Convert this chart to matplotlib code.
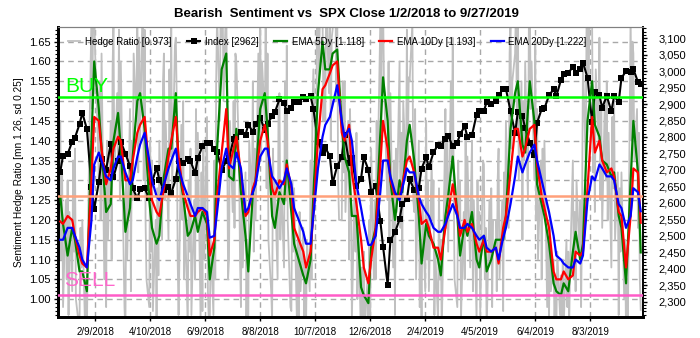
import matplotlib
matplotlib.use("Agg")
import matplotlib.pyplot as plt
import matplotlib.dates as mdates
from matplotlib.ticker import MultipleLocator, FuncFormatter
import pandas as pd

plt.rcParams['font.family'] = ['Liberation Sans', 'DejaVu Sans']

first_day, last_day = '2018-01-02', '2019-09-27'
# every trading session, and every third one counted back from the last close
trading_days = pd.bdate_range(first_day, last_day)
sessions = trading_days[::-1][::3][::-1]

# Sentiment hedge ratio, one reading per trading session
hedge = [
    1.45, 1.10, 1.32, 0.98, 1.25, 1.05, 1.30, 0.96, 1.22, 1.02, 1.35, 1.12,
    1.38, 1.00, 0.94, 0.95, 1.18, 1.08, 1.20, 0.93, 1.05, 0.92, 1.10, 1.30,
    1.72, 1.48, 1.80, 1.75, 1.62, 1.40, 1.30, 1.55, 1.20, 1.62, 1.05, 1.28,
    0.98, 1.40, 1.15, 1.45, 1.10, 1.58, 1.70, 1.30, 1.52, 1.35, 1.68, 1.25,
    1.60, 1.12, 0.98, 0.92, 1.30, 1.10, 1.48, 1.02, 1.40, 1.25, 1.62, 1.45,
    1.75, 1.32, 1.66, 1.40, 1.78, 1.30, 1.68, 1.20, 1.05, 0.98, 1.40, 1.12,
    1.35, 0.97, 1.20, 0.95, 1.28, 1.06, 1.40, 1.15, 1.55, 1.62, 1.25, 1.45,
    1.15, 1.58, 1.36, 1.70, 1.28, 1.64, 1.66, 1.50, 1.10, 0.96, 1.44, 1.20,
    1.50, 1.05, 1.22, 0.93, 1.30, 1.12, 1.38, 0.96, 1.25, 1.05, 1.48, 1.18,
    1.42, 0.95, 1.32, 0.97, 1.40, 1.10, 1.46, 1.02, 0.94,
    0.93, 1.15, 0.96, 1.35, 1.05, 1.55, 1.72, 1.45, 1.80, 1.66, 1.78, 1.50,
    1.78, 1.40, 1.05, 1.10, 1.45, 1.22, 1.50, 1.18, 1.62, 1.60, 1.35, 1.10,
    0.98, 1.30, 1.08, 1.32, 0.95, 1.15, 0.92, 1.40, 1.25, 1.55, 1.12, 1.38,
    1.20, 1.62, 1.40, 1.74, 1.35, 1.60, 1.45, 1.70, 1.28, 1.62, 1.15, 1.02,
    0.95, 1.38, 1.20, 1.30, 1.05, 1.48, 1.52, 1.15, 1.30, 1.08, 1.55, 1.25,
    1.64, 1.20, 0.98, 0.97, 1.30, 1.12, 1.28, 0.95, 1.15, 0.94, 1.22, 1.02,
    1.18, 0.93, 1.08, 0.92, 1.15, 1.02, 1.35, 1.05, 1.48, 1.58, 1.30, 1.75,
    1.80, 1.55, 1.70, 1.72, 1.45, 1.62, 1.45, 1.78, 1.52, 1.76, 1.40, 1.66,
    1.68, 1.80, 1.50, 1.75, 1.30, 1.20, 1.20, 1.55, 1.32, 1.55, 1.22, 1.45,
    1.10, 1.48, 1.30,
    0.95, 1.30, 1.12, 1.42, 1.00, 1.18, 0.90, 1.08, 0.94, 1.12, 0.92, 1.05,
    0.92, 1.20, 0.96, 1.38, 1.05, 1.25, 1.05, 1.45, 1.30, 1.70, 1.42, 1.78,
    1.74, 1.55, 1.30, 1.25, 1.60, 1.15, 1.52, 1.08, 1.35, 0.96, 1.38, 1.22,
    1.60, 1.18, 1.42, 1.10, 1.50, 1.30, 1.68, 1.35, 1.56, 1.55, 1.70, 1.25,
    1.22, 1.48, 1.05, 1.40, 0.98, 1.15, 0.93, 1.25, 1.02, 1.45, 1.10, 1.30,
    1.02, 1.35, 1.20, 1.30, 0.96, 1.12, 0.94, 1.28, 1.05, 1.15, 0.92, 1.32,
    1.48, 1.18, 1.40, 1.12, 1.55, 1.35, 1.66, 1.30, 1.05, 0.98, 1.35, 1.15,
    1.30, 0.95, 1.22, 1.05, 1.42, 1.18, 1.36, 1.08, 1.28, 1.40, 1.02, 1.25,
    0.95, 1.30, 1.08, 1.22, 0.96, 1.35, 1.34, 1.05, 1.18, 0.92, 1.25, 1.10,
    1.28, 0.98, 1.20, 1.20, 1.02, 1.30,
    1.38, 1.05, 1.25, 0.97, 1.32, 1.15, 1.45, 1.18, 1.62, 1.70, 1.38, 1.55,
    1.62, 1.75, 1.42, 1.76, 1.30, 1.55, 1.15, 1.50, 1.35, 1.60, 1.25, 1.68,
    1.78, 1.48, 1.60, 1.30, 1.65, 1.20, 1.48, 1.10, 1.35, 1.05, 1.38, 1.22,
    1.40, 0.98, 1.15, 0.95, 1.20, 1.02, 1.10, 0.93, 1.05, 0.92, 1.12, 0.96,
    1.06, 0.92, 1.10, 0.93, 1.15, 0.98, 1.12, 0.94, 1.08, 1.35, 1.05, 1.22,
    1.02, 1.30, 1.12, 1.25, 0.98, 1.20, 1.60, 1.35, 1.72, 1.80, 1.55, 1.68,
    1.70, 1.32, 1.50, 1.22, 1.58, 1.40, 1.66, 1.25, 1.48, 1.18, 1.52, 1.30,
    1.55, 1.20, 1.42, 1.08, 1.46, 1.28, 1.50, 1.15, 1.32, 0.96, 1.28, 1.12,
    1.32, 1.00, 1.15, 0.90, 1.05, 0.94, 1.72, 1.40, 1.65, 1.62, 1.35, 1.48,
    1.18, 1.42, 1.05, 0.973,
]

# S&P 500 close, every third session
spx = [
    2695, 2743, 2748, 2786, 2798, 2839, 2873, 2824, 2649, 2581, 2662, 2732, 2701,
    2780, 2678, 2728, 2786, 2749, 2712, 2644, 2613, 2641, 2644, 2613, 2663, 2706,
    2670, 2639, 2648, 2630, 2672, 2728, 2722, 2733, 2727, 2690, 2735, 2772, 2782,
    2782, 2762, 2755, 2699, 2727, 2736, 2793, 2801, 2816, 2807, 2837, 2816, 2840,
    2858, 2822, 2840, 2863, 2875, 2914, 2902, 2878, 2888, 2905, 2907, 2920, 2914,
    2923, 2886, 2786, 2750, 2768, 2741, 2659, 2712, 2738, 2806, 2722,
    2736, 2650, 2673, 2738, 2700, 2633, 2651, 2546, 2467, 2351, 2486, 2510, 2550,
    2597, 2610, 2671, 2639, 2644, 2704, 2738, 2708, 2753, 2776, 2774, 2793, 2804,
    2771, 2783, 2808, 2832, 2801, 2805, 2868, 2879, 2878, 2907, 2900, 2908,
    2926, 2946, 2946, 2879, 2812, 2876, 2864, 2826, 2783, 2744, 2843, 2885, 2887,
    2926, 2945, 2924, 2973, 2990, 2993, 3014, 2995, 3005, 3026, 2980, 2844, 2938,
    2926, 2889, 2924, 2878, 2924, 2906, 2979, 3000, 2998, 3006, 2967, 2962,
]

# 5-day EMA of the hedge ratio, every third session
ema5 = [
    1.26, 1.19, 1.11, 1.18, 1.15, 1.07, 1.07, 1.02, 1.40, 1.60, 1.48, 1.38, 1.22,
    1.24, 1.40, 1.47, 1.38, 1.17, 1.23, 1.36, 1.50, 1.52, 1.43, 1.25, 1.18, 1.14,
    1.16, 1.31, 1.38, 1.38, 1.52, 1.33, 1.26, 1.16, 1.17, 1.21, 1.17, 1.22, 1.19,
    1.05, 1.13, 1.38, 1.58, 1.62, 1.31, 1.30, 1.43, 1.27, 1.16, 1.07, 1.27, 1.30,
    1.48, 1.52, 1.43, 1.21, 1.18, 1.27, 1.24, 1.35, 1.22, 1.14, 1.10, 1.06, 1.04,
    1.10, 1.26, 1.52, 1.65, 1.58, 1.58, 1.62, 1.63, 1.44, 1.36, 1.32,
    1.21, 1.21, 1.03, 1.01, 0.99, 1.13, 1.18, 1.42, 1.56, 1.45, 1.30, 1.20, 1.30,
    1.27, 1.40, 1.44, 1.35, 1.21, 1.09, 1.19, 1.16, 1.14, 1.10, 1.06, 1.21, 1.26,
    1.36, 1.21, 1.11, 1.19, 1.16, 1.22, 1.10, 1.08, 1.16, 1.07, 1.10, 1.15,
    1.15, 1.15, 1.21, 1.43, 1.52, 1.55, 1.39, 1.37, 1.55, 1.45, 1.29, 1.24, 1.21,
    1.14, 1.04, 1.02, 1.01, 1.04, 1.02, 1.12, 1.17, 1.10, 1.14, 1.45, 1.55, 1.44,
    1.41, 1.35, 1.34, 1.31, 1.32, 1.21, 1.18, 1.04, 1.30, 1.45, 1.32, 1.118,
]

# 10-day EMA of the hedge ratio, every third session
ema10 = [
    1.196, 1.19, 1.21, 1.20, 1.16, 1.11, 1.09, 1.08, 1.30, 1.46, 1.45, 1.38, 1.29,
    1.33, 1.38, 1.41, 1.40, 1.30, 1.30, 1.35, 1.42, 1.44, 1.46, 1.32, 1.25, 1.22,
    1.21, 1.28, 1.36, 1.40, 1.46, 1.36, 1.27, 1.23, 1.21, 1.21, 1.22, 1.23, 1.21,
    1.11, 1.15, 1.26, 1.37, 1.48, 1.33, 1.38, 1.41, 1.32, 1.21, 1.22, 1.28, 1.30,
    1.40, 1.44, 1.40, 1.28, 1.26, 1.30, 1.29, 1.34, 1.28, 1.18, 1.15, 1.12, 1.08,
    1.12, 1.22, 1.40, 1.53, 1.54, 1.57, 1.59, 1.60, 1.42, 1.40, 1.44,
    1.32, 1.24, 1.15, 1.08, 1.04, 1.10, 1.18, 1.34, 1.45, 1.38, 1.30, 1.26, 1.26,
    1.29, 1.35, 1.36, 1.32, 1.25, 1.19, 1.20, 1.18, 1.13, 1.13, 1.10, 1.18, 1.22,
    1.29, 1.22, 1.16, 1.20, 1.17, 1.19, 1.14, 1.12, 1.15, 1.12, 1.12, 1.13,
    1.09, 1.18, 1.21, 1.32, 1.43, 1.43, 1.36, 1.38, 1.43, 1.44, 1.34, 1.26, 1.23,
    1.18, 1.07, 1.05, 1.05, 1.07, 1.05, 1.06, 1.12, 1.11, 1.12, 1.28, 1.46, 1.37,
    1.40, 1.35, 1.32, 1.33, 1.31, 1.22, 1.21, 1.08, 1.21, 1.33, 1.32, 1.193,
]

# 20-day EMA of the hedge ratio, every third session
ema20 = [
    1.150, 1.15, 1.18, 1.18, 1.16, 1.13, 1.10, 1.08, 1.20, 1.34, 1.37, 1.35, 1.31,
    1.30, 1.33, 1.36, 1.36, 1.32, 1.29, 1.30, 1.36, 1.39, 1.42, 1.35, 1.30, 1.26,
    1.25, 1.29, 1.33, 1.35, 1.38, 1.33, 1.29, 1.26, 1.24, 1.21, 1.23, 1.23, 1.22,
    1.155, 1.16, 1.22, 1.33, 1.38, 1.34, 1.33, 1.37, 1.33, 1.22, 1.23, 1.27, 1.29,
    1.36, 1.38, 1.38, 1.31, 1.30, 1.28, 1.30, 1.33, 1.29, 1.23, 1.20, 1.17, 1.14,
    1.14, 1.21, 1.33, 1.41, 1.44, 1.46, 1.49, 1.54, 1.45, 1.41, 1.43,
    1.40, 1.29, 1.23, 1.19, 1.137, 1.137, 1.16, 1.27, 1.35, 1.35, 1.31, 1.27, 1.25,
    1.28, 1.33, 1.32, 1.32, 1.26, 1.24, 1.22, 1.21, 1.18, 1.17, 1.17, 1.19, 1.21,
    1.24, 1.21, 1.18, 1.18, 1.19, 1.18, 1.16, 1.15, 1.16, 1.13, 1.12, 1.13,
    1.10, 1.155, 1.18, 1.24, 1.31, 1.36, 1.32, 1.34, 1.37, 1.39, 1.35, 1.30, 1.27,
    1.22, 1.16, 1.11, 1.10, 1.09, 1.08, 1.08, 1.10, 1.09, 1.11, 1.25, 1.31, 1.30,
    1.34, 1.33, 1.31, 1.31, 1.30, 1.24, 1.23, 1.18, 1.21, 1.28, 1.27, 1.222,
]

buy_level = 1.51
mean_level = 1.26
sell_level = 1.01

tick_dates = pd.date_range('2018-02-09', periods=10, freq='60D')

fig = plt.figure(figsize=(7.0, 3.38), dpi=100)
fig.patch.set_facecolor('white')
ax = fig.add_axes([58 / 700, 1 - 317 / 338, 585 / 700, 290 / 338])
ax_idx = ax.twinx()
ax_top = ax.twinx()

pad = pd.Timedelta(days=2.5)
ax.set_xlim(trading_days[0] - pad, trading_days[-1] + pad)
ax.set_ylim(0.955, 1.687)
ax_top.set_ylim(0.955, 1.687)
ax_idx.set_ylim(2253, 3134)

# raw hedge ratio at the back
ax.plot(trading_days, hedge, color='#c0c0c0', lw=1.3, zorder=2,
        label=f'Hedge Ratio [{hedge[-1]:.3f}]')

# index on the right-hand scale
ax_idx.plot(sessions, spx, color='black', lw=1.5, marker='s', ms=4.2,
            markeredgewidth=0, label=f'Index [{spx[-1]}]')

# moving averages
ax_top.plot(sessions, ema5, color='#008000', lw=1.6, label=f'EMA 5Dy [{ema5[-1]:.3f}]')
ax_top.plot(sessions, ema10, color='#ff0000', lw=1.6, label=f'EMA 10Dy [{ema10[-1]:.3f}]')
ax_top.plot(sessions, ema20, color='#0000ff', lw=1.6, label=f'EMA 20Dy [{ema20[-1]:.3f}]')

# signal levels
ax_top.axhline(buy_level, color='#00ff00', lw=1.8, zorder=5)
ax_top.axhline(mean_level, color='#ffa07a', lw=1.8, zorder=5)
ax_top.axhline(sell_level, color='#ff5cc8', lw=1.8, zorder=5)
ax_top.text(trading_days[0] + pd.Timedelta(days=5), 1.523, 'BUY', color='#00ff00',
            fontsize=15, va='baseline', ha='left', zorder=6)
ax_top.text(trading_days[0] + pd.Timedelta(days=4), 1.033, 'SELL', color='#ff66cc',
            fontsize=15, va='baseline', ha='left', zorder=6)


def date_label(v, pos):
    d = mdates.num2date(v)
    return f'{d.month}/{d.day}/{d.year}'


ax.set_xticks(tick_dates)
ax.xaxis.set_major_formatter(FuncFormatter(date_label))
ax.yaxis.set_major_locator(MultipleLocator(0.05))
ax.yaxis.set_minor_locator(MultipleLocator(0.01))
ax.yaxis.set_major_formatter(FuncFormatter(lambda v, p: f'{v:.2f}'))
ax.grid(True, which='major', color='#a8a8a8', lw=1.0, ls=(0, (4, 3)), zorder=1)
ax.set_axisbelow(True)
ax.tick_params(axis='y', which='major', length=3, width=1, labelsize=8, pad=2)
ax.tick_params(axis='y', which='minor', length=2, width=0.8)
ax.tick_params(axis='x', which='major', length=3, width=1, labelsize=7, pad=4)
ax.set_ylabel('Sentiment Hedge Ratio [mn 1.26, sd 0.25]', fontsize=7.3, labelpad=4)

ax_idx.yaxis.set_major_locator(MultipleLocator(50))
ax_idx.yaxis.set_minor_locator(MultipleLocator(10))
ax_idx.yaxis.set_major_formatter(FuncFormatter(lambda v, p: f'{int(round(v)):,}'))
ax_idx.tick_params(axis='y', which='major', length=3, width=1, labelsize=8, pad=8)
ax_idx.tick_params(axis='y', which='minor', length=2, width=0.8)

ax_top.yaxis.set_visible(False)
for s in ax_top.spines.values():
    s.set_visible(False)

for a in (ax, ax_idx):
    a.spines['left'].set_linewidth(2.0)
    a.spines['bottom'].set_linewidth(2.0)
    a.spines['right'].set_linewidth(1.2)
    a.spines['top'].set_linewidth(0.8)
    a.spines['top'].set_color('#808080')

handles = []
labels = []
for a in (ax, ax_idx, ax_top):
    h, l = a.get_legend_handles_labels()
    handles += h
    labels += l
leg = ax_top.legend(handles, labels, loc='upper left', bbox_to_anchor=(0.0, 1.0),
                    ncol=5, frameon=False, fontsize=7, handlelength=1.3,
                    handletextpad=0.5, columnspacing=1.6, borderaxespad=0.6)
leg.set_zorder(10)

fig.text(346 / 700, 1 - 14 / 338, 'Bearish  Sentiment vs  SPX Close 1/2/2018 to 9/27/2019',
         ha='center', va='center', fontsize=9.5, fontweight='bold')

fig.savefig('out.png', dpi=100, facecolor='white')
